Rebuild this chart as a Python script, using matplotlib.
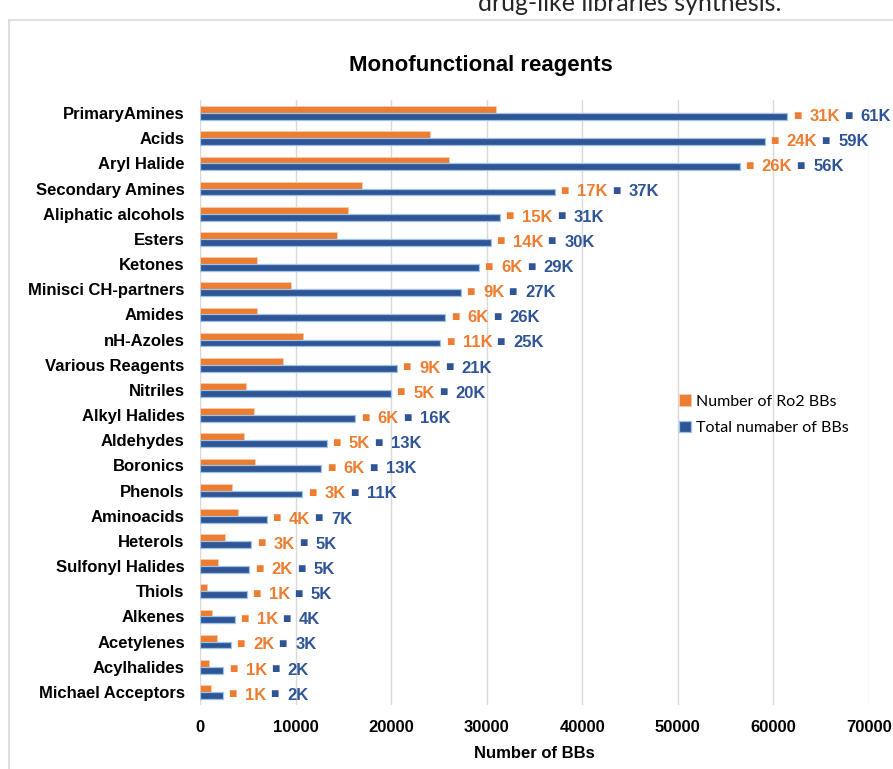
import matplotlib
matplotlib.use("Agg")
import matplotlib.pyplot as plt
from matplotlib.patches import Patch
from matplotlib.lines import Line2D

categories = ["PrimaryAmines", "Acids", "Aryl Halide", "Secondary Amines", "Aliphatic alcohols",
              "Esters", "Ketones", "Minisci CH-partners", "Amides", "nH-Azoles",
              "Various Reagents", "Nitriles", "Alkyl Halides", "Aldehydes", "Boronics",
              "Phenols", "Aminoacids", "Heterols", "Sulfonyl Halides", "Thiols",
              "Alkenes", "Acetylenes", "Acylhalides", "Michael Acceptors"]
ro2_bbs = [30970, 24060, 26020, 16940, 15450, 14290, 5980, 9480, 5920, 10730,
           8640, 4800, 5630, 4620, 5710, 3360, 3930, 2600, 1900, 740,
           1240, 1760, 890, 1100]
total_bbs = [61440, 59070, 56450, 37120, 31390, 30400, 29190, 27280, 25670, 25140,
             20610, 19980, 16240, 13250, 12680, 10690, 6960, 5350, 5140, 4870,
             3610, 3230, 2450, 2400]
xticks = [0, 10000, 20000, 30000, 40000, 50000, 60000, 70000]
series_names = ["Number of Ro2 BBs", "Total numaber of BBs"]

ORANGE = "#ED7D31"
BLUE = "#2F5597"
FONT = ["Liberation Sans", "DejaVu Sans"]

W, H = 893, 769
fig = plt.figure(figsize=(W / 100, H / 100), dpi=100)
ax = fig.add_axes([200 / W, 1 - 705 / H, (869 - 200) / W, (705 - 100) / H])

h = 0.27
ys = list(range(len(categories)))
ax.barh([y - h / 2 for y in ys], ro2_bbs, height=h, color=ORANGE,
        edgecolor="#F8CBAD", linewidth=0.6, zorder=3)
ax.barh([y + h / 2 for y in ys], total_bbs, height=h, color=BLUE,
        edgecolor="#9DC3E6", linewidth=0.9, zorder=3)

SQ = dict(fontsize=10, family=FONT, va="center", ha="left", textcoords="offset points")
LB = dict(fontsize=12, fontweight="bold", family=FONT, va="center", ha="left",
          textcoords="offset points")
for y, o, t in zip(ys, ro2_bbs, total_bbs):
    s1 = ax.annotate("\u25a0", xy=(t, y + h / 2), xytext=(4.0, 0.6), color=ORANGE, **SQ)
    l1 = ax.annotate(f"{o / 1000:.0f}K", xy=(1, 0.5), xycoords=s1, xytext=(6.0, -0.6),
                     color=ORANGE, **LB)
    s2 = ax.annotate("\u25a0", xy=(1, 0.5), xycoords=l1, xytext=(3, 0.6), color=BLUE, **SQ)
    ax.annotate(f"{t / 1000:.0f}K", xy=(1, 0.5), xycoords=s2, xytext=(6.0, -0.6),
                color=BLUE, **LB)

ax.set_ylim(len(categories) - 0.48, -0.52)
ax.set_xlim(0, 70000)
ax.set_xticks(xticks)
ax.set_xticklabels([str(v) for v in xticks], fontsize=12, fontweight="bold", family=FONT)
ax.set_yticks(ys)
ax.set_yticklabels(categories, fontsize=12, fontweight="bold", family=FONT)
ax.tick_params(axis="both", length=0)
ax.tick_params(axis="x", pad=11)
ax.tick_params(axis="y", pad=11)
ax.grid(axis="x", color="#D9D9D9", linewidth=1, zorder=0)
ax.set_axisbelow(True)
for s in ax.spines.values():
    s.set_visible(False)
ax.set_xlabel("Number of BBs", fontsize=12, fontweight="bold", family=FONT, labelpad=8)

fig.text(481 / W, 1 - 65 / H, "Monofunctional reagents", ha="center", va="center",
         fontsize=16, fontweight="bold", family=FONT)

handles = [Patch(facecolor=ORANGE, edgecolor="#F8CBAD", linewidth=0.6),
           Patch(facecolor=BLUE, edgecolor="#9DC3E6", linewidth=0.9)]
fig.legend(handles, series_names, loc="upper left",
           bbox_to_anchor=(668 / W, 1 - 383 / H), frameon=False,
           handlelength=0.75, handleheight=0.75, handletextpad=0.3,
           labelspacing=0.75, borderpad=0.2,
           prop={"family": ["Lato", "DejaVu Sans"], "size": 11.5})

fig.add_artist(Line2D([9 / W, 9 / W], [0, 1 - 20 / H], color="#D9D9D9", lw=1.2,
                      transform=fig.transFigure))
fig.add_artist(Line2D([9 / W, 1], [1 - 20 / H, 1 - 20 / H], color="#D9D9D9", lw=1.2,
                      transform=fig.transFigure))
fig.text(478 / W, 1 - 11 / H, "drug-like libraries synthesis.", ha="left", va="baseline",
         fontsize=18, color="#262626", family=["Lato", "DejaVu Sans"])

fig.savefig("out.png", dpi=100)
